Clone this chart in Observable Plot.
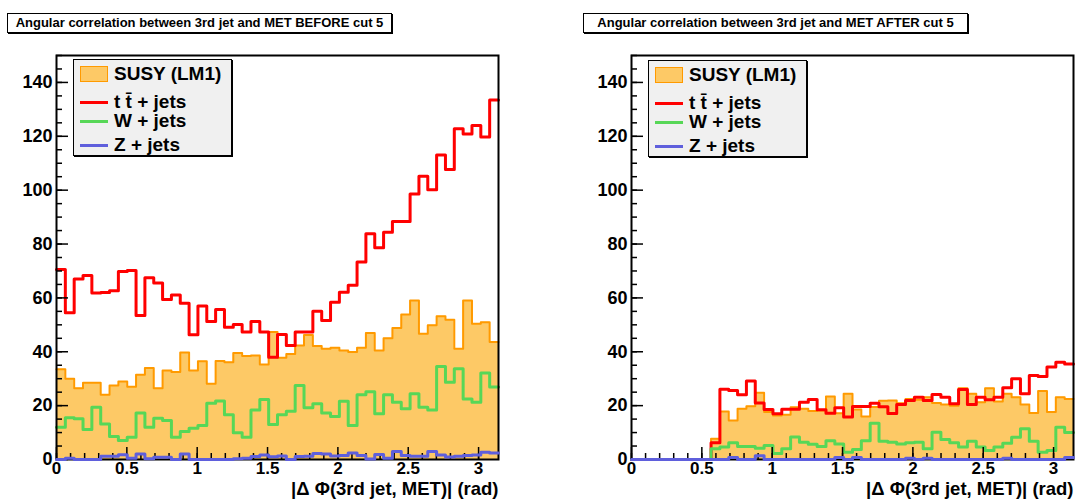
<!DOCTYPE html>
<html><head><meta charset="utf-8">
<script src="https://cdn.jsdelivr.net/npm/d3@7"></script>
<script src="https://cdn.jsdelivr.net/npm/@observablehq/plot@0.6"></script>
<style>
body{margin:0;background:#fff;}
#wrap{position:relative;width:1077px;height:502px;overflow:hidden;font-family:"Liberation Sans",Arial,sans-serif;font-weight:bold;color:#000;}
.panel{position:absolute;top:0;}
.title{position:absolute;top:13px;width:383px;height:18px;border:1px solid #000;box-shadow:1px 1px 0 #000;background:#fff;font-size:13px;line-height:18px;text-align:center;white-space:nowrap;}
.legend{position:absolute;width:157px;height:95px;border:1px solid #000;box-shadow:1px 1px 0 #000;background:#f0f0f0;}
.legend .sym{position:absolute;left:6px;width:28px;}
.legend .lab{position:absolute;left:40px;font-size:19px;line-height:20px;white-space:nowrap;}
</style></head><body><div id="wrap"></div>
<script>
// ---- data (50 bins of |dPhi| from 0 to pi) ----
const nBins = 50;
const seriesNames = ["SUSY (LM1)", "t t\u0304 + jets", "W + jets", "Z + jets"];
const seriesColors = ["#ff9a00", "#ff0000", "#57d757", "#5f5fdc"];
const susyFill = "#fdc966";

const susyBefore = [33.5,30,26.5,28.5,28.5,24,27.5,29,27,31.5,34,26.5,33,32.5,39.7,33,36.5,28.1,36.6,36.1,39.5,38.4,38.6,35.3,47.3,37.8,39.2,42.3,46.2,42.1,41.1,41.5,40.5,39.9,41.5,47.0,40.5,45.0,48.8,53.8,59.0,46.7,49.8,53.2,51.9,41.1,59.0,50.4,51.0,43.6];
const ttbarBefore = [70.5,54.5,67,68.3,61.8,62,62.7,69.8,70.2,53.5,67.5,65.5,59.4,61.1,58,46.3,57,51.2,55.7,49.1,50.1,47.3,51.2,47.3,38.0,46.4,42.3,47.3,47.3,55.0,51.6,58.4,62.1,64.7,73.3,83.8,78.6,84.4,88.4,88.4,98.6,105.2,100.2,113.1,107.7,122.8,120.9,124.0,119.7,133.5];
const wjetsBefore = [12,15.5,15.1,11.1,19.4,13.2,8.5,7.1,8.3,17.3,12.0,15.3,14.5,8.3,10.4,11.6,12.6,20.9,21.7,16.6,9.9,8.3,18.4,22.3,13.0,16.6,17.9,27.5,19.2,20.7,17.3,16.0,21.6,12.6,24.0,25.2,17.0,24.0,21.3,18.8,24.4,19.4,18.4,34.5,28.7,33.7,22.5,21.3,32.1,26.9];
const zjetsBefore = [0,0.5,0,0,0,1.2,1.2,1.8,0.5,2.0,0.3,0.8,0.8,0,2.0,0,0,0,0,0,0.3,0.5,1.1,1.7,1.0,1.3,0,1.1,1.2,2.2,2.0,1.3,1.5,2.4,1.5,0.2,1.9,0.5,3.0,1.5,1.2,1.2,3.0,1.7,0.9,1.2,1.5,1.7,2.7,2.4];

const susyAfter = [0,0,0,0,0,0,0,0,0,7.7,17.8,14.5,18.8,19.8,24.8,17.6,16.3,16.6,19.4,18.8,18.0,18.2,23.4,17.2,24.4,18.6,16.0,19.5,21.8,21.9,20.9,22.5,22.2,23.1,21.0,20.4,20.0,26.5,24.4,21.3,26.5,21.5,24.4,23.1,20.4,17.3,25.4,17.6,23.1,22.5];
const ttbarAfter = [0,0,0,0,0,0,0,0,0,6.2,26.1,25.6,24.0,29.1,21.0,18.6,17.0,18.7,18.7,21.3,22.3,18.5,17.2,19.2,15.8,19.7,19.7,20.9,19.6,17.1,20.4,21.9,23.1,21.9,24.1,23.1,20.7,26.0,20.4,23.1,22.2,23.1,26.6,30.0,24.4,31.2,30.8,34.3,36.1,35.5];
const wjetsAfter = [0,0,0,0,0,0,0,0,0,4.0,4.6,6.2,4.8,4.8,4.2,5.2,2.2,4.0,8.4,6.4,5.7,4.8,7.0,5.8,2.7,3.7,7.0,13.5,6.8,6.4,5.8,6.2,6.4,4.0,10.1,7.4,6.2,4.6,6.8,4.6,3.3,4.6,6.0,8.3,11.4,6.8,2.7,3.3,12.0,10.0];
const zjetsAfter = [0,0,0,0,0,0,0,0,0,0,0,0.7,0,0,1.4,0,0,0,0,0,0,0,0,0.7,0,0.7,0,0,0,0,0,0.5,0,0.5,0,0,0,0,0,0,0,0,0.5,0,0,0,0,0,0,0.7];

const yMajor = [0,20,40,60,80,100,120,140];
const yMinor = d3.range(0, 151, 5);
const xMajor = [0,0.5,1,1.5,2,2.5,3];
const xMinor = d3.range(0, 31).map(i => i / 10);
const xTitle = "|\u0394 \u03a6(3rd jet, MET)| (rad)";
const titles = ["Angular correlation between 3rd jet and MET BEFORE cut 5",
                "Angular correlation between 3rd jet and MET AFTER cut 5"];

// ---- drawing ----
const H = 502, mTop = 55, mBottom = 43;
function steps(vals) {
  const w = Math.PI / nBins;
  const pts = vals.map((v, i) => ({x: i * w, y: v}));
  pts.push({x: Math.PI, y: vals[vals.length - 1]});
  return pts;
}
function panel(left, width, mLeft, mRight, data, title, titleLeft, legLeft, legTop) {
  const plotW = width - mLeft - mRight, plotH = H - mTop - mBottom;
  const [susy, tt, w, z] = data.map(steps);
  const font = "'Liberation Sans', Arial, sans-serif";
  const svg = Plot.plot({
    width, height: H, marginLeft: mLeft, marginRight: mRight, marginTop: mTop, marginBottom: mBottom,
    x: {domain: [0, Math.PI], label: null},
    y: {domain: [0, 150], label: null},
    style: {fontFamily: font, fontWeight: "bold", fontSize: "18px", color: "#000", background: "transparent", overflow: "visible"},
    marks: [
      Plot.areaY(susy, {x: "x", y: "y", curve: "step-after", fill: susyFill}),
      Plot.lineY(susy, {x: "x", y: "y", curve: "step-after", stroke: seriesColors[0], strokeWidth: 2}),
      Plot.lineY(tt, {x: "x", y: "y", curve: "step-after", stroke: seriesColors[1], strokeWidth: 3}),
      Plot.lineY(w, {x: "x", y: "y", curve: "step-after", stroke: seriesColors[2], strokeWidth: 3}),
      Plot.tickY(yMinor, {insetRight: plotW - 6, stroke: "#000", strokeWidth: 1.5}),
      Plot.tickY(yMajor, {insetRight: plotW - 12, stroke: "#000", strokeWidth: 1.5}),
      Plot.tickX(xMinor, {insetTop: plotH - 6, stroke: "#000", strokeWidth: 1.5}),
      Plot.tickX(xMajor, {insetTop: plotH - 12, stroke: "#000", strokeWidth: 1.5}),
      Plot.axisY(yMajor, {tickSize: 0, tickPadding: 4, fontSize: 18, fontWeight: "bold", label: null}),
      Plot.axisX(xMajor, {tickSize: 0, tickPadding: 2, fontSize: 17, fontWeight: "bold", tickFormat: d => String(d), label: null}),
      Plot.frame({stroke: "#000", strokeWidth: 2}),
      Plot.lineY(z, {x: "x", y: "y", curve: "step-after", stroke: seriesColors[3], strokeWidth: 3}),
      Plot.text([xTitle], {frameAnchor: "bottom-right", dy: 30, textAnchor: "end", lineAnchor: "middle", fontSize: 18.5, fontWeight: "bold"})
    ]
  });
  svg.classList.add("panel");
  svg.style.left = left + "px";
  const wrap = document.getElementById("wrap");
  wrap.appendChild(svg);

  const t = document.createElement("div");
  t.className = "title";
  t.style.left = titleLeft + "px";
  t.textContent = title;
  wrap.appendChild(t);

  const leg = document.createElement("div");
  leg.className = "legend";
  leg.style.left = legLeft + "px";
  leg.style.top = legTop + "px";
  const rows = [14, 42, 61, 85];
  seriesNames.forEach((name, i) => {
    const s = document.createElement("div");
    s.className = "sym";
    if (i === 0) {
      s.style.top = (rows[i] - 8) + "px";
      s.style.height = "14px";
      s.style.background = susyFill;
      s.style.border = "1.5px solid " + seriesColors[0];
      s.style.width = "26px";
    } else {
      s.style.top = (rows[i] - 1.5) + "px";
      s.style.height = "3px";
      s.style.background = seriesColors[i];
    }
    leg.appendChild(s);
    const l = document.createElement("div");
    l.className = "lab";
    l.style.top = (rows[i] - 10) + "px";
    l.textContent = name;
    leg.appendChild(l);
  });
  wrap.appendChild(leg);
}
panel(0, 520, 56, 22, [susyBefore, ttbarBefore, wjetsBefore, zjetsBefore], titles[0], 7, 73, 59);
panel(575, 502, 56, 4, [susyAfter, ttbarAfter, wjetsAfter, zjetsAfter], titles[1], 583, 648, 60);
</script></body></html>
